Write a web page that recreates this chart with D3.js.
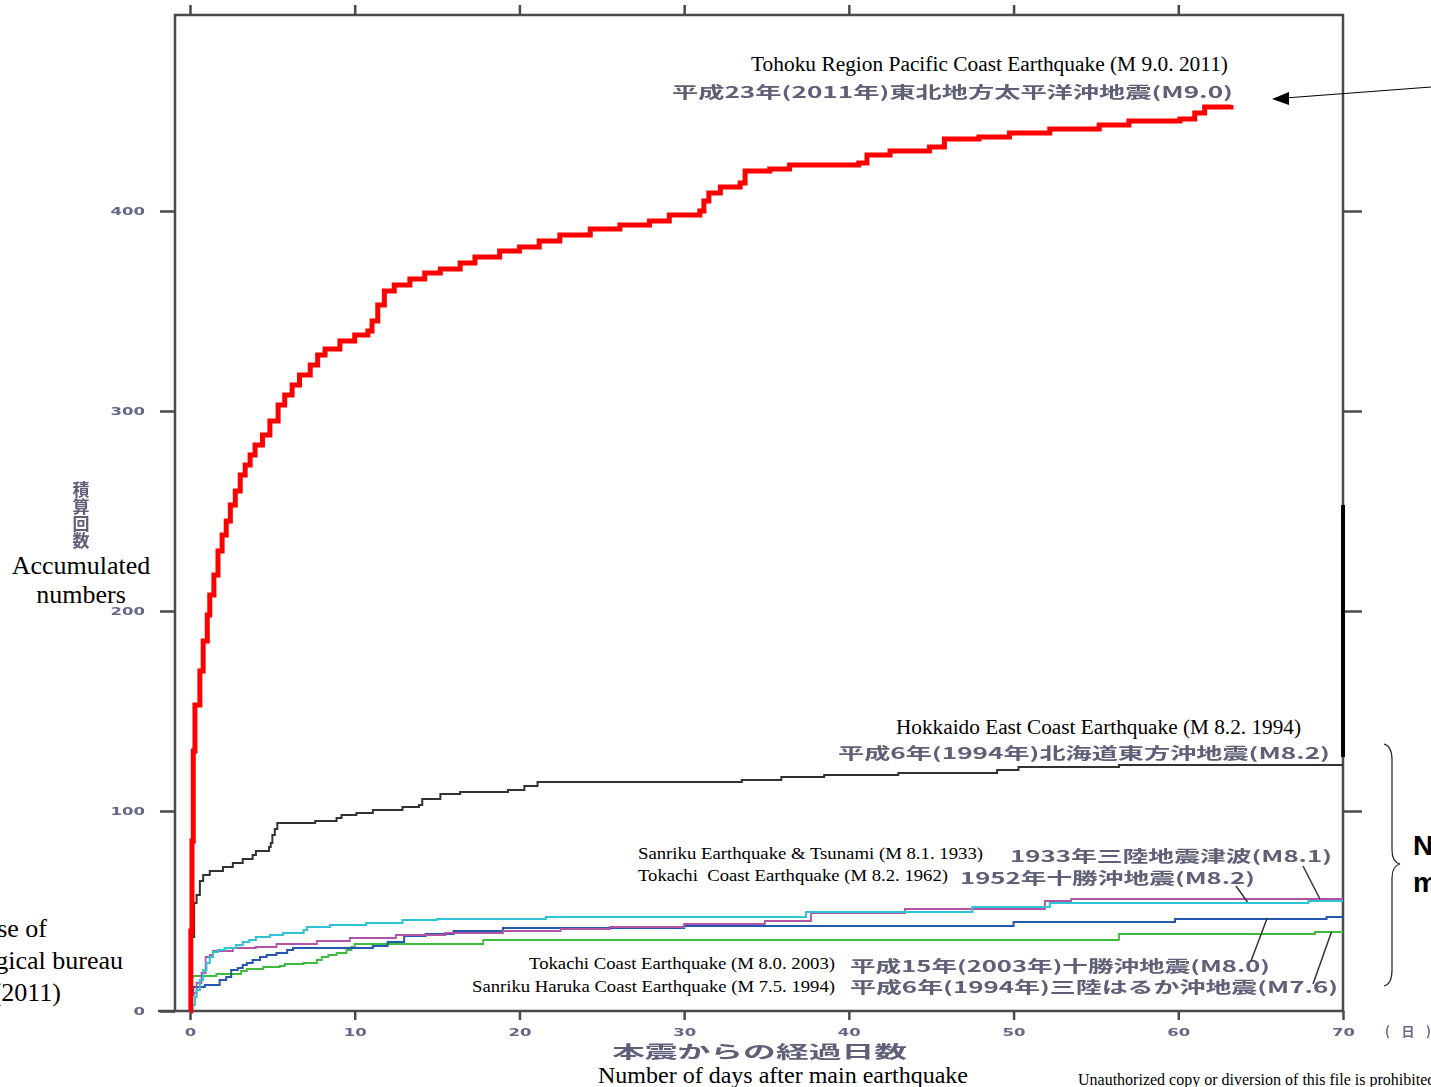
<!DOCTYPE html>
<html>
<head>
<meta charset="utf-8">
<script src="https://cdn.jsdelivr.net/npm/d3@7"></script>
<style>
  body { margin: 0; background: #fff; }
  svg { display: block; }
</style>
</head>
<body>
<svg id="chart" width="1431" height="1087"></svg>
<script>
'use strict';

// ---- data : [day after main shock, accumulated count]
var xTicks = [0, 10, 20, 30, 40, 50, 60, 70];
var yTicks = [0, 100, 200, 300, 400];

var tohoku2011 = [[0,0],[0.05,40],[0.12,85],[0.2,130],[0.3,153],[0.6,170],[0.8,185],[1.05,198],[1.2,208],
  [1.45,218],[1.7,230],[1.95,238],[2.2,245],[2.45,253],[2.75,260],[3.05,268],[3.35,273],[3.65,278],
  [3.95,283],[4.4,288],[4.85,295],[5.35,303],[5.75,308],[6.2,313],[6.65,318],[7.3,323],[7.75,328],
  [8.2,331],[9.1,335],[10.0,338],[10.8,340],[11.05,345],[11.4,353],[11.8,360],[12.4,363],[13.35,366],
  [14.25,369],[15.2,371],[16.4,374],[17.3,377],[18.8,380],[20.0,382],[21.2,385],[22.45,388],[24.3,391],
  [26.1,393],[27.9,395],[29.1,398],[30.95,400],[31.2,405],[31.5,409],[32.2,412],[33.4,414],[33.7,420],
  [35.2,421],[36.4,423],[40.6,424],[41.1,428],[42.5,430],[44.9,432],[45.8,436],[47.9,437],[49.75,439],
  [52.2,441],[55.2,443],[57.0,445],[60.1,446],[61.0,449],[61.6,452],[63.2,453]];

var hokkaido1994 = [[0,0],[0.05,20],[0.1,37],[0.25,54],[0.4,58],[0.6,65],[0.8,68],[1.2,70],[2.0,72],
  [2.6,74],[3.2,76],[3.8,78],[4.0,80],[4.8,82],[4.9,84],[5.0,88],[5.15,91],[5.3,94],[7.6,95],[8.9,96.5],
  [9.2,98],[10.1,99],[11.1,100.5],[12.9,102],[13.9,103],[14.1,106],[15.2,108.5],[16.4,109.5],[19.3,110.5],
  [20.3,112.5],[21.1,114.5],[33.5,115.5],[35.9,117],[38.5,118],[43,119],[49,120.5],[50.3,122],[56.4,123],[70,123]];

var sanriku1933 = [[0,0],[0.1,9],[0.4,14],[0.7,19],[0.95,27],[1.2,28],[1.4,30],[2.6,31.5],[4.0,32],
  [5.25,33.5],[7.7,35],[9.7,36.5],[12.5,38],[15.5,39],[19,40],[22.5,41],[25.5,42],[30,43.5],[34.9,45],
  [37.7,49],[43.4,51],[51.9,55],[53.5,56],[70,56]];

var tokachi1952 = [[0,0],[0.15,3],[0.3,7],[0.4,10.5],[0.6,15.5],[0.8,20.5],[1.0,24],[1.2,27],[1.4,29.5],
  [1.7,30.5],[2.1,31.5],[2.8,33],[3.2,34.5],[3.6,35.5],[4.0,37],[4.85,38],[5.65,39],[6.9,40.5],[7.1,42],
  [8.5,43],[10.7,44],[12.9,45.5],[15.0,46],[21.6,47],[37.4,49.5],[47.5,52],[52.2,54],[67.9,55],[70,55]];

var tokachi2003 = [[0,0],[0.05,8],[0.2,12],[0.9,13],[1.8,15.5],[2.2,17],[2.5,20.5],[2.9,21.5],[3.2,23],
  [3.45,24],[3.8,25.5],[4.25,27],[4.65,28],[5.25,29],[5.9,30.5],[6.25,31.5],[11.1,32.5],[12.0,34.5],
  [13.0,37.5],[14.3,38.5],[16.0,40],[19.0,41.5],[30.0,42.5],[50.0,44.5],[59.8,46],[69.0,47],[70,47]];

var sanrikuHaruka1994 = [[0,0],[0.05,10],[0.1,17],[0.2,17.5],[1.6,18.5],[3.1,20],[3.45,21],[4.45,22],
  [5.45,22.5],[5.75,23.5],[6.9,24],[7.7,25.5],[8.0,27],[8.4,28],[8.9,29],[9.5,30.5],[9.8,32],[10.0,33.5],
  [17.8,35.5],[56.4,38.5],[68.3,39.5],[70,39.5]];

// ---- layout
var x = d3.scaleLinear().domain([0, 70]).range([190, 1343]);
var y = d3.scaleLinear().domain([0, 498]).range([1011, 15]);
var frameLeft = 175;
var axisColor = '#4a4a4a';
var serif = '"Liberation Serif", "Times New Roman", serif';
var jpFont = '"Noto Sans CJK JP", "Noto Sans", sans-serif';
var jpFill = '#5e5e78';

var svg = d3.select('#chart');
var defs = svg.append('defs');
defs.append('filter').attr('id', 'soft')
    .append('feGaussianBlur').attr('stdDeviation', 0.6);

// ---- axes
function styleAxis(g) {
  g.select('.domain').remove();
  g.selectAll('.tick line').attr('stroke', axisColor).attr('stroke-width', 2.5);
  g.selectAll('.tick text')
      .attr('fill', '#66668a')
      .attr('filter', 'url(#soft)')
      .attr('textLength', function () { return this.textContent.length * 11.5; })
      .attr('lengthAdjust', 'spacingAndGlyphs')
      .style('font-family', '"DejaVu Sans", sans-serif')
      .style('font-size', '11px')
      .style('font-weight', 'bold');
}

svg.append('g').attr('transform', 'translate(' + frameLeft + ',0)')
    .call(d3.axisLeft(y).tickValues(yTicks).tickSize(15).tickPadding(15))
    .call(styleAxis);

svg.append('g').attr('transform', 'translate(' + x(70) + ',0)')
    .call(d3.axisRight(y).tickValues(yTicks.slice(1)).tickSize(19).tickFormat(''))
    .call(styleAxis);

svg.append('g').attr('transform', 'translate(0,' + y(498) + ')')
    .call(d3.axisTop(x).tickValues(xTicks.slice(0, -1)).tickSize(10).tickFormat(''))
    .call(styleAxis);

svg.append('g').attr('transform', 'translate(0,' + y(0) + ')')
    .call(d3.axisBottom(x).tickValues(xTicks).tickSize(9).tickPadding(8))
    .call(styleAxis);

// frame
svg.append('path')
    .attr('d', 'M158,' + y(0) + 'H' + x(70) + 'V' + y(498) + 'H' + frameLeft + 'V' + y(0))
    .attr('fill', 'none')
    .attr('stroke', axisColor)
    .attr('stroke-width', 2.5);

// ---- series
var line = d3.line()
    .x(function (d) { return x(d[0]); })
    .y(function (d) { return y(d[1]); })
    .curve(d3.curveStepAfter);

var series = [
  { data: sanrikuHaruka1994, color: '#3dbb3d', width: 1.8 },
  { data: tokachi2003,       color: '#2457b0', width: 2 },
  { data: sanriku1933,       color: '#b253a6', width: 1.8 },
  { data: tokachi1952,       color: '#2ec4d6', width: 2 },
  { data: hokkaido1994,      color: '#333333', width: 2 },
  { data: tohoku2011,        color: '#ff0000', width: 5 }
];

svg.append('g').selectAll('path')
    .data(series)
    .enter()
    .append('path')
    .attr('d', function (s) { return line(s.data); })
    .attr('fill', 'none')
    .attr('stroke', function (s) { return s.color; })
    .attr('stroke-width', function (s) { return s.width; })
    .attr('stroke-linejoin', 'miter');

// thick marker on right frame
svg.append('line')
    .attr('x1', x(70)).attr('x2', x(70))
    .attr('y1', y(253)).attr('y2', y(127))
    .attr('stroke', '#000').attr('stroke-width', 4);

// ---- labels
var enLabels = [
  { t: 'Tohoku Region Pacific Coast Earthquake (M 9.0. 2011)', x: 1228, y: 71, s: 20, w: 477 },
  { t: 'Hokkaido East Coast Earthquake (M 8.2. 1994)', x: 1301, y: 734, s: 20, w: 405 },
  { t: 'Sanriku Earthquake & Tsunami (M 8.1. 1933)', x: 983, y: 859, s: 17.5, w: 345 },
  { t: 'Tokachi  Coast Earthquake (M 8.2. 1962)', x: 948, y: 881, s: 17.5, w: 310 },
  { t: 'Tokachi Coast Earthquake (M 8.0. 2003)', x: 835, y: 969, s: 17.5, w: 306 },
  { t: 'Sanriku Haruka Coast Earthquake (M 7.5. 1994)', x: 835, y: 992, s: 17.5, w: 363 }
];

svg.append('g').selectAll('text')
    .data(enLabels)
    .enter()
    .append('text')
    .attr('x', function (d) { return d.x; })
    .attr('y', function (d) { return d.y; })
    .attr('text-anchor', 'end')
    .attr('textLength', function (d) { return d.w; })
    .attr('lengthAdjust', 'spacingAndGlyphs')
    .style('font-family', serif)
    .style('font-size', function (d) { return d.s + 'px'; })
    .style('white-space', 'pre')
    .attr('fill', '#000')
    .text(function (d) { return d.t; });

var jpLabels = [
  { t: '平成23年(2011年)東北地方太平洋沖地震(M9.0)', x: 672, y: 98, w: 561 },
  { t: '平成6年(1994年)北海道東方沖地震(M8.2)', x: 838, y: 759, w: 492 },
  { t: '1933年三陸地震津波(M8.1)', x: 1010, y: 862, w: 322 },
  { t: '1952年十勝沖地震(M8.2)', x: 960, y: 884, w: 295 },
  { t: '平成15年(2003年)十勝沖地震(M8.0)', x: 850, y: 972, w: 420 },
  { t: '平成6年(1994年)三陸はるか沖地震(M7.6)', x: 850, y: 993, w: 488 }
];

svg.append('g').selectAll('text')
    .data(jpLabels)
    .enter()
    .append('text')
    .attr('x', function (d) { return d.x; })
    .attr('y', function (d) { return d.y; })
    .attr('textLength', function (d) { return d.w; })
    .attr('lengthAdjust', 'spacingAndGlyphs')
    .attr('fill', jpFill)
    .attr('filter', 'url(#soft)')
    .style('font-family', jpFont)
    .style('font-size', '15.5px')
    .style('font-weight', 'bold')
    .text(function (d) { return d.t; });

// leader lines: from label to the series they name
var leaders = [
  { from: [1303, 866], at: [68.6, 56] },
  { from: [1236, 886], at: [64.2, 54.5] },
  { from: [1251, 961], at: [65.4, 46.5] },
  { from: [1313, 984], at: [69.3, 39.5] }
];

svg.append('g').selectAll('line')
    .data(leaders)
    .enter()
    .append('line')
    .attr('x1', function (d) { return d.from[0]; })
    .attr('y1', function (d) { return d.from[1]; })
    .attr('x2', function (d) { return x(d.at[0]); })
    .attr('y2', function (d) { return y(d.at[1]); })
    .attr('stroke', '#333')
    .attr('stroke-width', 1.5);

// arrow pointing at the 2011 label
svg.append('line')
    .attr('x1', 1431).attr('y1', 87)
    .attr('x2', 1285).attr('y2', 98)
    .attr('stroke', '#000').attr('stroke-width', 1);
svg.append('path')
    .attr('d', 'M1272,99 L1289,92 L1289,105 Z')
    .attr('fill', '#000');

// y axis title, Japanese set vertically
svg.append('text')
    .attr('x', 81).attr('y', 481)
    .attr('fill', jpFill)
    .attr('filter', 'url(#soft)')
    .style('writing-mode', 'vertical-rl')
    .style('font-family', jpFont)
    .style('font-size', '17px')
    .style('font-weight', 'bold')
    .text('積算回数');

svg.append('text').attr('x', 81).attr('y', 574).attr('text-anchor', 'middle')
    .style('font-family', serif).style('font-size', '26px').text('Accumulated');
svg.append('text').attr('x', 81).attr('y', 603).attr('text-anchor', 'middle')
    .style('font-family', serif).style('font-size', '26px').text('numbers');

// x axis title
svg.append('text')
    .attr('x', 612).attr('y', 1058)
    .attr('textLength', 295).attr('lengthAdjust', 'spacingAndGlyphs')
    .attr('fill', jpFill).attr('filter', 'url(#soft)')
    .style('font-family', jpFont).style('font-size', '17px').style('font-weight', 'bold')
    .text('本震からの経過日数');
svg.append('text')
    .attr('x', 598).attr('y', 1083)
    .attr('textLength', 370).attr('lengthAdjust', 'spacingAndGlyphs')
    .style('font-family', serif).style('font-size', '23.5px')
    .text('Number of days after main earthquake');
svg.append('text')
    .attr('x', 1385).attr('y', 1036)
    .attr('textLength', 46).attr('lengthAdjust', 'spacing')
    .attr('fill', '#66668a').attr('filter', 'url(#soft)')
    .style('font-family', jpFont).style('font-size', '13px').style('font-weight', 'bold')
    .text('(日)');

// credit lines, cut by the page edge as in the source
var credit = [
  { t: 'By courtesy and use of', x: 47, y: 937 },
  { t: 'Japan Meteorological bureau', x: 123, y: 969 },
  { t: '(2011)', x: 61, y: 1001 }
];
svg.append('g').selectAll('text')
    .data(credit)
    .enter()
    .append('text')
    .attr('x', function (d) { return d.x; })
    .attr('y', function (d) { return d.y; })
    .attr('text-anchor', 'end')
    .style('font-family', serif)
    .style('font-size', '26px')
    .text(function (d) { return d.t; });

svg.append('text')
    .attr('x', 1078).attr('y', 1085)
    .style('font-family', serif).style('font-size', '16px')
    .text('Unauthorized copy or diversion of this file is prohibited.');

// brace around the four smaller sequences
svg.append('path')
    .attr('d', 'M1384,744 Q1392,746 1392,760 V850 Q1392,862 1400,864 Q1392,866 1392,878 V970 Q1392,984 1384,986')
    .attr('fill', 'none')
    .attr('stroke', '#222')
    .attr('stroke-width', 1.2);

svg.append('text').attr('x', 1413).attr('y', 855)
    .style('font-family', '"Liberation Sans", Arial, sans-serif').style('font-size', '28px').style('font-weight', 'bold')
    .text('Normal');
svg.append('text').attr('x', 1413).attr('y', 892)
    .style('font-family', '"Liberation Sans", Arial, sans-serif').style('font-size', '28px').style('font-weight', 'bold')
    .text('magnitude');
</script>
</body>
</html>
